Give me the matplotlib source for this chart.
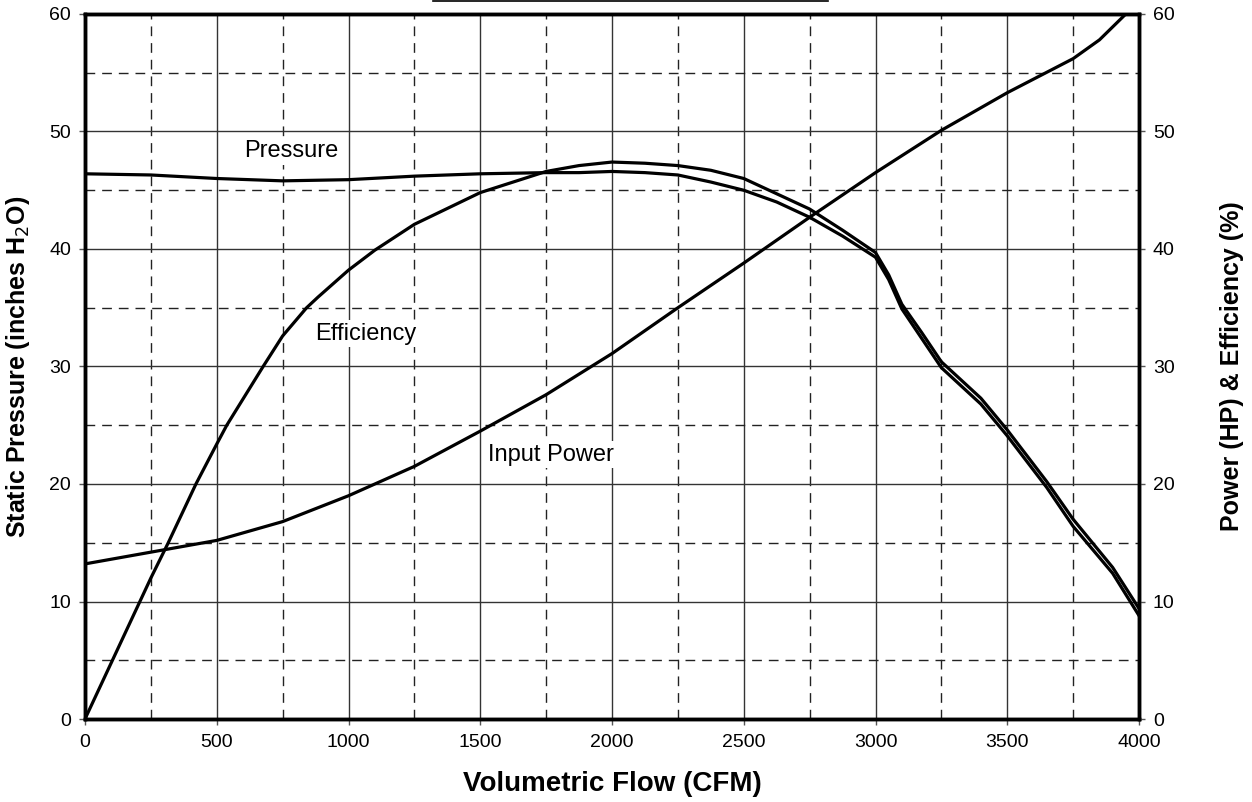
import matplotlib
matplotlib.use("Agg")
import matplotlib.pyplot as plt
from matplotlib.lines import Line2D
from matplotlib.ticker import MultipleLocator

plt.rcParams['font.family'] = ['Liberation Sans', 'DejaVu Sans']

# Data
pressure_cfm = [0, 250, 500, 750, 1000, 1250, 1500, 1750, 1875, 2000, 2125, 2250, 2375, 2500,
                2625, 2750, 2875, 3000, 3050, 3100, 3175, 3250, 3400, 3500, 3650, 3750, 3900, 4000]
pressure = [46.4, 46.3, 46.0, 45.8, 45.9, 46.2, 46.4, 46.5, 46.5, 46.6, 46.5, 46.3, 45.7, 45.0,
            44.0, 42.7, 41.1, 39.3, 37.4, 34.9, 32.4, 29.9, 26.8, 24.1, 19.7, 16.4, 12.4, 8.8]

eff_cfm = [0, 125, 250, 316, 421, 500, 538, 676, 750, 841, 884, 1000, 1100, 1250, 1500, 1750,
           1875, 2000, 2125, 2250, 2375, 2500, 2625, 2750, 2875, 3000, 3050, 3100, 3175, 3250,
           3400, 3500, 3650, 3750, 3900, 4000]
efficiency = [0.0, 6.0, 12.0, 15.0, 20.0, 23.4, 25.0, 30.0, 32.6, 35.0, 35.9, 38.2, 39.9, 42.1,
              44.8, 46.6, 47.1, 47.4, 47.3, 47.1, 46.7, 46.0, 44.7, 43.4, 41.6, 39.7, 37.8, 35.3,
              32.9, 30.4, 27.3, 24.6, 20.2, 17.0, 12.9, 9.4]

power_cfm = [0, 250, 500, 750, 1000, 1250, 1500, 1750, 2000, 2250, 2500, 2750,
             3000, 3250, 3500, 3750, 3850, 3950, 4000]
power = [13.2, 14.2, 15.2, 16.8, 19.0, 21.5, 24.5, 27.6, 31.1, 35.0, 38.8, 42.7,
         46.5, 50.1, 53.3, 56.2, 57.8, 60.0, 61.2]

fig = plt.figure(figsize=(12.52, 8.02), dpi=100)
ax = fig.add_axes([85 / 1252, 1 - 719 / 802, (1139 - 85) / 1252, (719 - 14) / 802])
ax2 = ax.twinx()

ax.set_xlim(0, 4000)
ax.set_ylim(0, 60)
ax2.set_ylim(0, 60)

ax.xaxis.set_major_locator(MultipleLocator(500))
ax.xaxis.set_minor_locator(MultipleLocator(250))
ax.yaxis.set_major_locator(MultipleLocator(10))
ax.yaxis.set_minor_locator(MultipleLocator(5))
ax2.yaxis.set_major_locator(MultipleLocator(10))

ax.grid(True, which='major', color='#333333', linewidth=1.0, linestyle='-')
ax.grid(True, which='minor', color='#222222', linewidth=1.0, linestyle=(0, (7, 5)))
ax.set_axisbelow(True)

lw = 2.3
ax.plot(pressure_cfm, pressure, color='black', linewidth=lw, zorder=3)
ax2.plot(eff_cfm, efficiency, color='black', linewidth=lw)
ax2.plot(power_cfm, power, color='black', linewidth=lw)

box = dict(facecolor='white', edgecolor='none', pad=1.5)
ax2.text(782, 48.3, 'Pressure', fontsize=17, ha='center', va='center', bbox=box)
ax2.text(1066, 32.8, 'Efficiency', fontsize=17, ha='center', va='center', bbox=box)
ax2.text(1768, 22.5, 'Input Power', fontsize=17, ha='center', va='center', bbox=box)

for a in (ax, ax2):
    for s in a.spines.values():
        s.set_linewidth(2.5)
        s.set_color('black')
    a.tick_params(which='major', labelsize=14, length=4, width=1, color='#555555', pad=6)
    a.tick_params(which='minor', length=0)
ax.tick_params(axis='x', pad=7)

ax.set_xlabel('Volumetric Flow (CFM)', fontsize=20, fontweight='bold')
ax.set_ylabel('Static Pressure (inches H$_2$O)', fontsize=18, fontweight='bold')
ax2.set_ylabel('Power (HP) & Efficiency (%)', fontsize=18, fontweight='bold')
ax.xaxis.set_label_coords(0.5, (719 - 784) / 705)
ax.xaxis.label.set_va('center')
ax.yaxis.set_label_coords((18 - 85) / 1054, 0.5)
ax.yaxis.label.set_va('center')
ax2.yaxis.set_label_coords((1232 - 85) / 1054, 0.5)
ax2.yaxis.label.set_va('center')

fig.add_artist(Line2D([433 / 1252, 828 / 1252], [1 - 1 / 802, 1 - 1 / 802],
                      color='black', linewidth=1.2))

fig.savefig('out.png', dpi=100)
